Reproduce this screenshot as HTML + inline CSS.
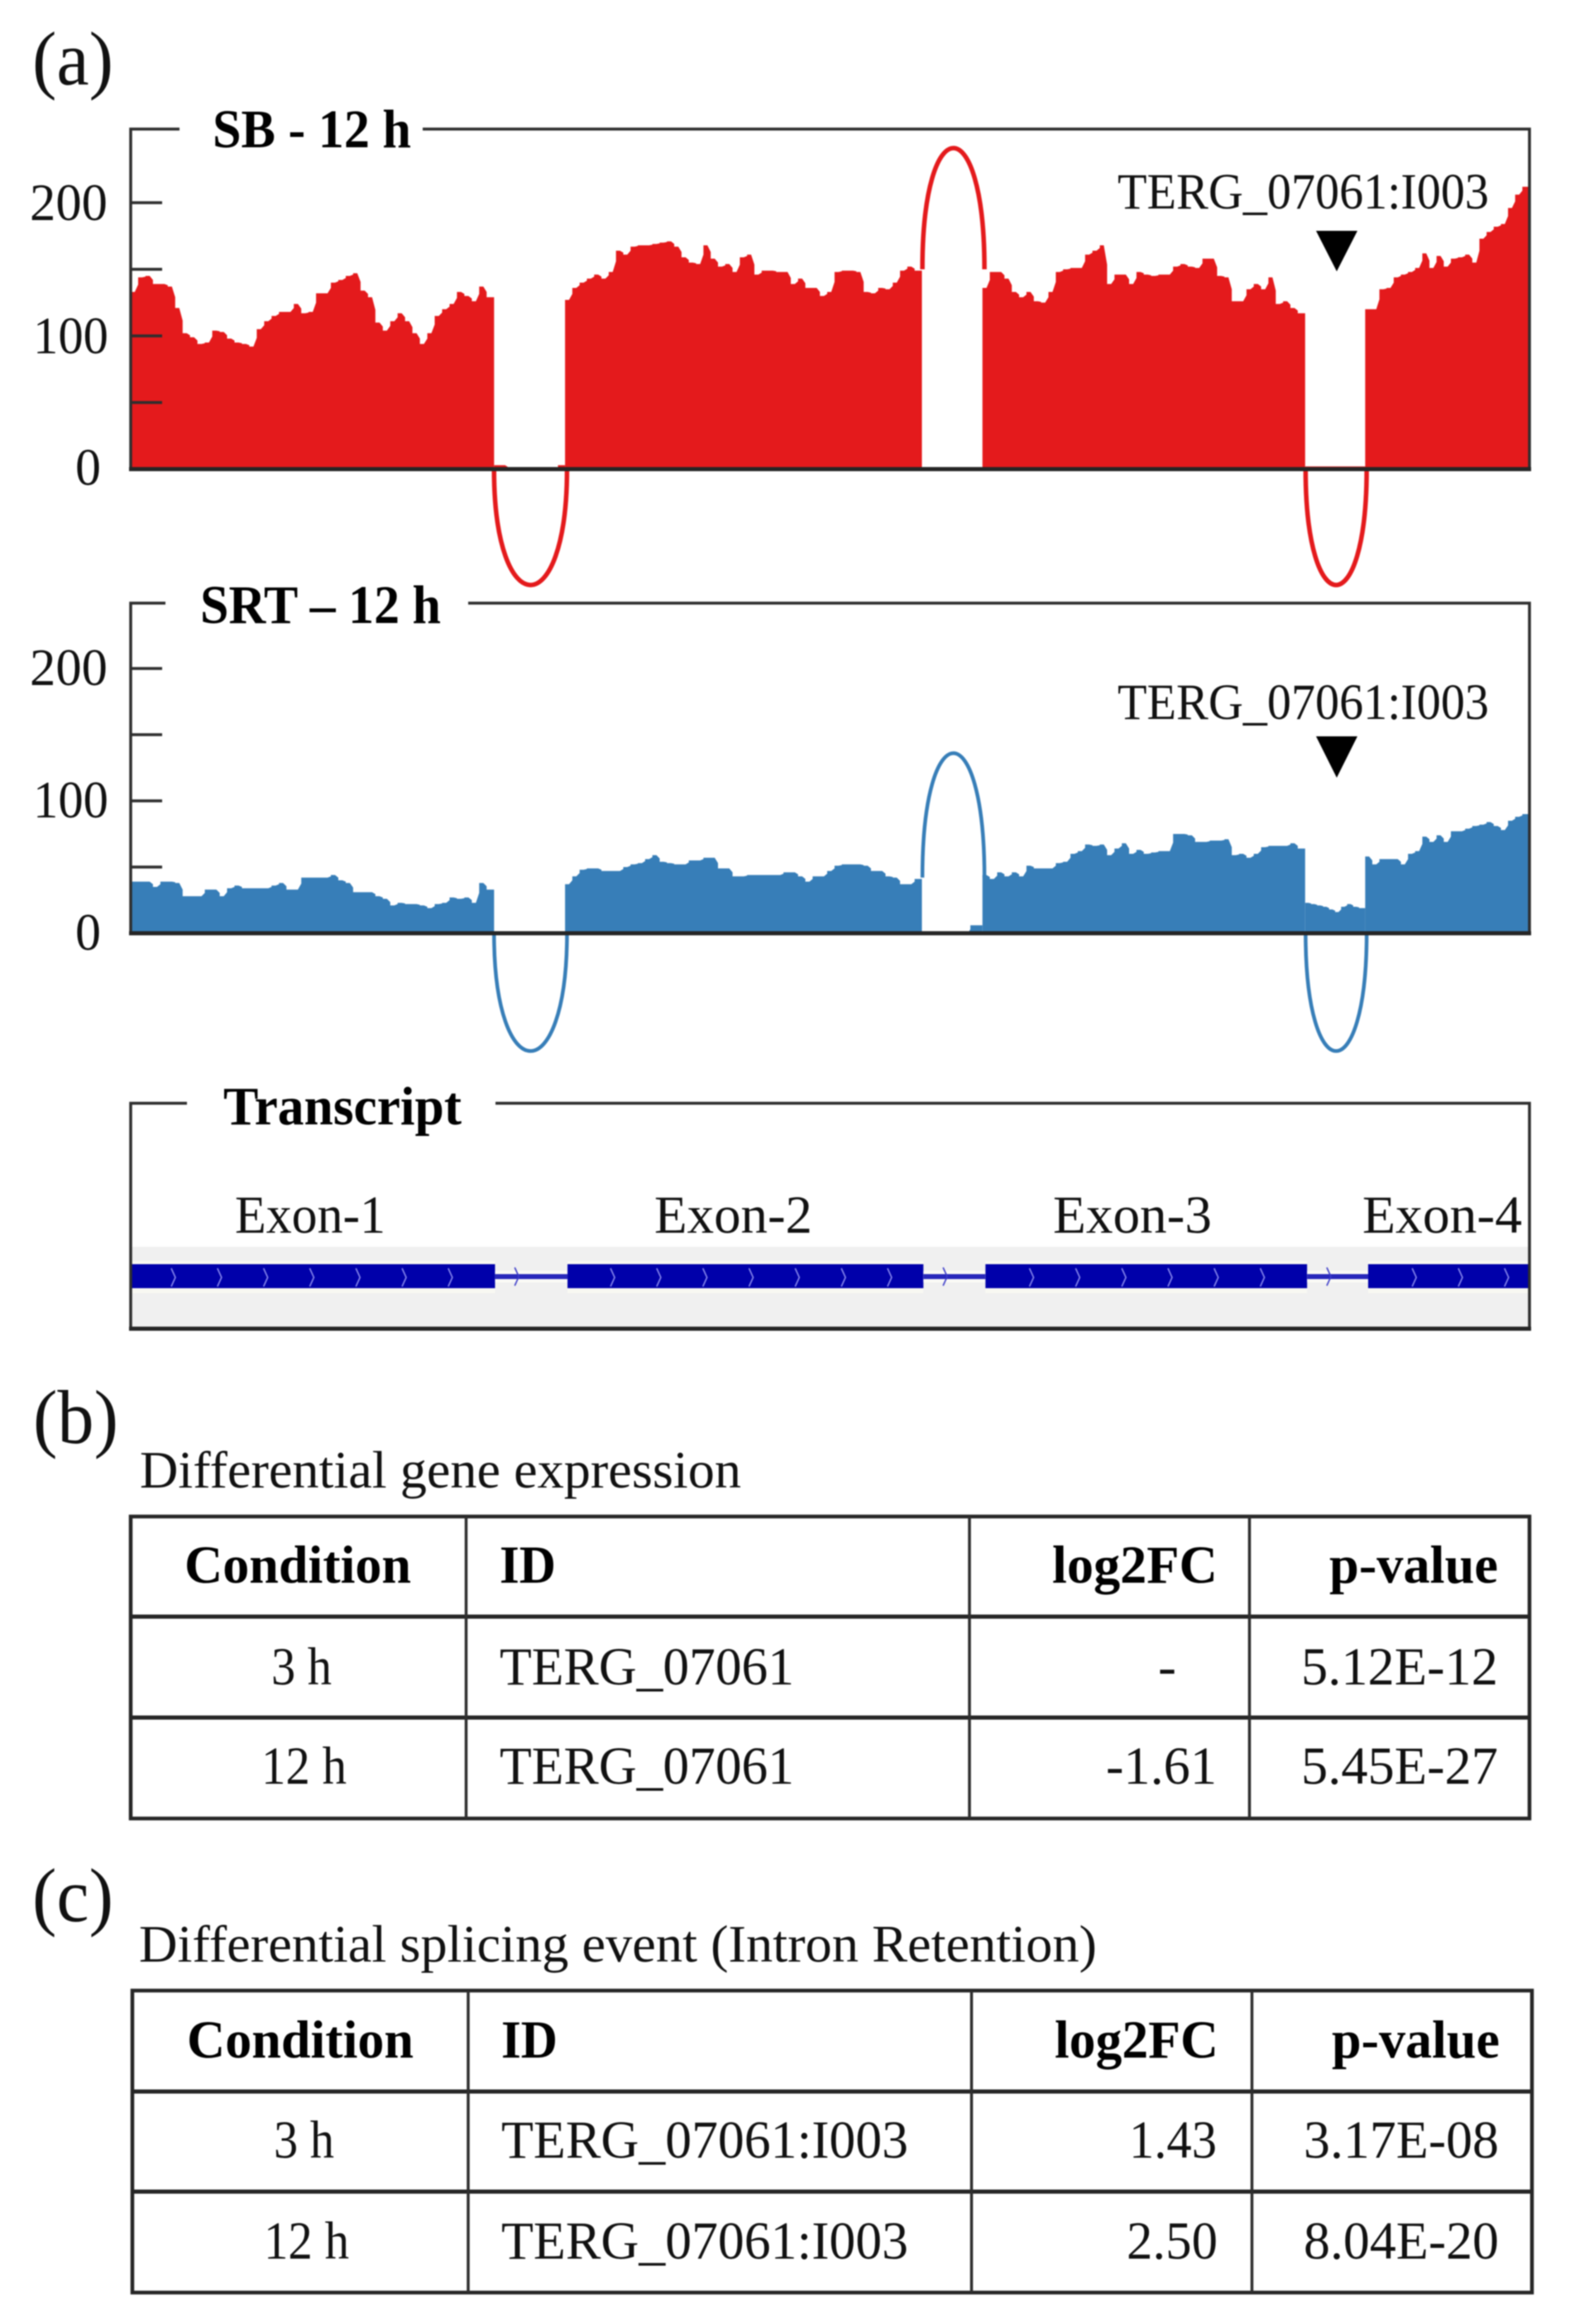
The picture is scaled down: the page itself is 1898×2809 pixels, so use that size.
<!DOCTYPE html>
<html lang="en">
<head>
<meta charset="utf-8">
<title>Intron retention coverage figure</title>
<style>
html,body{margin:0;padding:0;background:#fff;}
body{width:1898px;height:2809px;overflow:hidden;}
svg{display:block;filter:blur(0.7px);}
text{font-family:"Liberation Serif",serif;fill:#111;}
.b{font-weight:bold;fill:#000;}
.f{fill:none;stroke:#2e2e2e;stroke-width:3.5;}
.h{stroke:#262626;stroke-width:5;}
.v{stroke:#2e2e2e;stroke-width:3.5;}
</style>
</head>
<body>
<svg id="fig" xmlns="http://www.w3.org/2000/svg" width="1898" height="2809" viewBox="0 0 1898 2809">
  <rect width="1898" height="2809" fill="#fff"/>

  <text x="39" y="102" font-size="92" textLength="98" lengthAdjust="spacingAndGlyphs">(a)</text>

  <g id="track-red"></g>
  <g id="track-blue"></g>

  <g>
    <path class="f" d="M217 156H158V567"/>
    <path class="f" d="M511 156H1849V567"/>
    <line class="h" x1="156" y1="567" x2="1851" y2="567"/>
  </g>
  <text class="b" x="257" y="178" font-size="66" textLength="240" lengthAdjust="spacingAndGlyphs">SB - 12 h</text>
  <text x="36" y="266" font-size="63" textLength="94" lengthAdjust="spacingAndGlyphs">200</text>
  <text x="40" y="427" font-size="63" textLength="91" lengthAdjust="spacingAndGlyphs">100</text>
  <text x="91" y="586" font-size="63" textLength="31" lengthAdjust="spacingAndGlyphs">0</text>
  <text x="1351" y="252" font-size="61" textLength="449" lengthAdjust="spacingAndGlyphs">TERG_07061:I003</text>
  <polygon points="1591,279 1641,279 1616,328" fill="#000"/>

  <g>
    <path class="f" d="M200 729H158V1128"/>
    <path class="f" d="M566 729H1849V1128"/>
    <line class="h" x1="156" y1="1128" x2="1851" y2="1128"/>
  </g>
  <text class="b" x="242" y="753" font-size="66" textLength="291" lengthAdjust="spacingAndGlyphs">SRT – 12 h</text>
  <text x="36" y="828" font-size="63" textLength="94" lengthAdjust="spacingAndGlyphs">200</text>
  <text x="40" y="988" font-size="63" textLength="91" lengthAdjust="spacingAndGlyphs">100</text>
  <text x="91" y="1148" font-size="63" textLength="31" lengthAdjust="spacingAndGlyphs">0</text>
  <text x="1351" y="869" font-size="61" textLength="449" lengthAdjust="spacingAndGlyphs">TERG_07061:I003</text>
  <polygon points="1591,890 1641,890 1616,940" fill="#000"/>

  <rect x="158" y="1507" width="1691" height="98" fill="#f0f0f0"/>
  <g id="track-transcript"></g>
  <g>
    <path class="f" d="M226 1333.500H158V1606"/>
    <path class="f" d="M599 1333.500H1849V1606"/>
    <line class="h" x1="156" y1="1606" x2="1851" y2="1606"/>
  </g>
  <text class="b" x="270" y="1359" font-size="66" textLength="288" lengthAdjust="spacingAndGlyphs">Transcript</text>
  <text x="284" y="1490" font-size="65" textLength="182" lengthAdjust="spacingAndGlyphs">Exon-1</text>
  <text x="791" y="1490" font-size="65" textLength="191" lengthAdjust="spacingAndGlyphs">Exon-2</text>
  <text x="1273" y="1490" font-size="65" textLength="192" lengthAdjust="spacingAndGlyphs">Exon-3</text>
  <text x="1647" y="1490" font-size="65" textLength="193" lengthAdjust="spacingAndGlyphs">Exon-4</text>

  <text x="40" y="1744" font-size="92" textLength="103" lengthAdjust="spacingAndGlyphs">(b)</text>
  <text x="169" y="1798" font-size="63" textLength="727" lengthAdjust="spacingAndGlyphs">Differential gene expression</text>
  <g>
    <rect x="158" y="1833" width="1691" height="365" fill="none" stroke="#262626" stroke-width="4.500"/>
    <line class="h" x1="158" y1="1954" x2="1849" y2="1954"/>
    <line class="h" x1="158" y1="2076" x2="1849" y2="2076"/>
    <line class="v" x1="563.500" y1="1833" x2="563.500" y2="2198"/>
    <line class="v" x1="1172" y1="1833" x2="1172" y2="2198"/>
    <line class="v" x1="1510.500" y1="1833" x2="1510.500" y2="2198"/>
  </g>
  <text class="b" x="223" y="1913" font-size="65" textLength="274" lengthAdjust="spacingAndGlyphs">Condition</text>
  <text class="b" x="604" y="1913" font-size="65" textLength="68" lengthAdjust="spacingAndGlyphs">ID</text>
  <text class="b" x="1272" y="1913" font-size="65" textLength="200" lengthAdjust="spacingAndGlyphs">log2FC</text>
  <text class="b" x="1607" y="1913" font-size="65" textLength="204" lengthAdjust="spacingAndGlyphs">p-value</text>
  <text x="328" y="2036" font-size="65" textLength="73" lengthAdjust="spacingAndGlyphs">3 h</text>
  <text x="604" y="2036" font-size="65" textLength="356" lengthAdjust="spacingAndGlyphs">TERG_07061</text>
  <text x="1400" y="2036" font-size="65" textLength="22" lengthAdjust="spacingAndGlyphs">-</text>
  <text x="1573" y="2036" font-size="65" textLength="238" lengthAdjust="spacingAndGlyphs">5.12E-12</text>
  <text x="316" y="2156" font-size="65" textLength="103" lengthAdjust="spacingAndGlyphs">12 h</text>
  <text x="604" y="2156" font-size="65" textLength="356" lengthAdjust="spacingAndGlyphs">TERG_07061</text>
  <text x="1337" y="2156" font-size="65" textLength="134" lengthAdjust="spacingAndGlyphs">-1.61</text>
  <text x="1573" y="2156" font-size="65" textLength="238" lengthAdjust="spacingAndGlyphs">5.45E-27</text>

  <text x="39" y="2322" font-size="92" textLength="98" lengthAdjust="spacingAndGlyphs">(c)</text>
  <text x="168" y="2371" font-size="63" textLength="1158" lengthAdjust="spacingAndGlyphs">Differential splicing event (Intron Retention)</text>
  <g>
    <rect x="160" y="2406" width="1692" height="365" fill="none" stroke="#262626" stroke-width="4.500"/>
    <line class="h" x1="160" y1="2528" x2="1852" y2="2528"/>
    <line class="h" x1="160" y1="2649" x2="1852" y2="2649"/>
    <line class="v" x1="566" y1="2406" x2="566" y2="2771"/>
    <line class="v" x1="1174.500" y1="2406" x2="1174.500" y2="2771"/>
    <line class="v" x1="1513.500" y1="2406" x2="1513.500" y2="2771"/>
  </g>
  <text class="b" x="226" y="2487" font-size="65" textLength="274" lengthAdjust="spacingAndGlyphs">Condition</text>
  <text class="b" x="606" y="2487" font-size="65" textLength="68" lengthAdjust="spacingAndGlyphs">ID</text>
  <text class="b" x="1275" y="2487" font-size="65" textLength="198" lengthAdjust="spacingAndGlyphs">log2FC</text>
  <text class="b" x="1610" y="2487" font-size="65" textLength="203" lengthAdjust="spacingAndGlyphs">p-value</text>
  <text x="331" y="2608" font-size="65" textLength="73" lengthAdjust="spacingAndGlyphs">3 h</text>
  <text x="606" y="2608" font-size="65" textLength="492" lengthAdjust="spacingAndGlyphs">TERG_07061:I003</text>
  <text x="1365" y="2608" font-size="65" textLength="106" lengthAdjust="spacingAndGlyphs">1.43</text>
  <text x="1576" y="2608" font-size="65" textLength="236" lengthAdjust="spacingAndGlyphs">3.17E-08</text>
  <text x="319" y="2730" font-size="65" textLength="103" lengthAdjust="spacingAndGlyphs">12 h</text>
  <text x="606" y="2730" font-size="65" textLength="492" lengthAdjust="spacingAndGlyphs">TERG_07061:I003</text>
  <text x="1362" y="2730" font-size="65" textLength="110" lengthAdjust="spacingAndGlyphs">2.50</text>
  <text x="1576" y="2730" font-size="65" textLength="236" lengthAdjust="spacingAndGlyphs">8.04E-20</text>
</svg>

<script>
// Gene model, in base pairs
const geneLength = 2818;
const exonStarts = [0, 875, 1716, 2487];
const exonEnds = [732, 1594, 2366, 2818];
const transcriptExonStarts = [0, 880, 1722, 2493];
const transcriptExonEnds = [734, 1597, 2370, 2818];
const junctionStarts = [732, 1595, 2367];
const junctionEnds = [879, 1720, 2490];
const junctionDirections = [-1, 1, -1];
const tickValues = [0, 50, 100, 150, 200];

// SB 12 h coverage per exon
const redExon1 = [133,144,145,139,139,137,121,102,99,94,95,104,103,98,95,94,92,105,111,115,118,118,124,117,118,132,132,140,142,145,147,134,129,110,104,111,117,111,102,94,102,115,120,124,133,130,126,137,129];
const redExon2 = [127,136,140,143,146,143,148,164,161,167,168,168,169,170,171,167,159,155,154,168,158,152,154,148,159,161,146,149,149,148,148,139,143,136,136,130,133,148,149,149,148,133,132,136,135,140,149,152,149];
const redExon3 = [136,148,148,143,133,129,133,126,125,133,148,150,151,151,161,164,168,139,146,146,139,148,146,145,146,146,152,154,152,151,158,158,145,144,126,126,135,139,135,144,124,126,121,117];
const redExon4 = [120,120,135,136,144,146,148,151,162,151,160,152,158,159,161,155,173,178,182,184,196,206,212];
// SB 12 h coverage inside introns
const redIntron1 = [3,3,0,0,0,0,0,0,0,3];
const redIntron2 = [0,0,0,0,0,0];
const redIntron3 = [2,2,2,2,2,2];
// SB 12 h junction read counts and arc anchor levels
const redJunctionCounts = [87, 91, 87];
const redJunctionBases = [0, 150, 0];

// SRT 12 h coverage per exon
const blueExon1 = [39,39,39,35,39,39,38,28,28,28,33,33,28,34,36,34,34,34,34,36,38,33,33,42,42,42,42,44,40,38,31,31,31,28,26,21,23,22,22,21,19,22,23,27,26,27,23,38,33];
const blueExon2 = [37,43,48,49,49,47,47,47,50,52,53,56,59,54,53,52,52,55,55,57,57,49,49,43,43,44,44,44,44,44,46,46,43,39,43,43,47,51,52,52,52,51,47,47,43,42,37,37,41];
const blueExon3 = [44,41,46,43,46,43,51,49,49,49,53,54,60,62,67,66,67,59,64,68,60,63,60,61,62,62,75,75,74,69,69,70,70,71,59,60,57,60,65,66,66,66,68,64];
const blueExon4 = [58,52,56,56,56,52,60,62,73,69,74,69,77,77,79,81,82,84,81,78,85,88,90];
// SRT 12 h coverage inside introns
const blueIntron1 = [0,0,0,0,0,0];
const blueIntron2 = [0,0,0,0,0,0,0,0,6,6];
const blueIntron3 = [23,22,21,20,18,16,20,22,20,19];
// SRT 12 h junction read counts and arc anchor levels
const blueJunctionCounts = [89, 94, 89];
const blueJunctionBases = [0, 42, 0];

const SVG_NS = 'http://www.w3.org/2000/svg';
function xScale(bp) { return 158 + bp * (1691 / geneLength); }
function yRed(v) { return 567 - v * 1.61; }
function yBlue(v) { return 1128 - v * 1.6; }

// Stepped coverage outline: each sample owns an equal-width bin of the segment
function areaPath(values, startBp, endBp, yScale) {
  const base = yScale(0);
  const binBp = (endBp - startBp) / values.length;
  let d = 'M' + xScale(startBp).toFixed(1) + ' ' + base;
  values.forEach(function (v, i) {
    const y = yScale(v).toFixed(1);
    d += 'L' + xScale(startBp + binBp * i).toFixed(1) + ' ' + y;
    d += 'L' + xScale(startBp + binBp * (i + 0.55)).toFixed(1) + ' ' + y;
    const next = i + 1 < values.length ? values[i + 1] : v;
    d += 'L' + xScale(startBp + binBp * (i + 1)).toFixed(1) + ' ' + yScale((v + next) / 2).toFixed(1);
  });
  return d + 'L' + xScale(endBp).toFixed(1) + ' ' + base + 'Z';
}

function drawTrack(groupId, color, exons, introns, counts, bases, yScale, strokeWidth) {
  const g = document.getElementById(groupId);
  exons.forEach(function (values, i) {
    const p = document.createElementNS(SVG_NS, 'path');
    
    
    p.setAttribute('d', areaPath(values, exonStarts[i], exonEnds[i], yScale));
    p.setAttribute('fill', color);
    g.appendChild(p);
  });
  introns.forEach(function (values, i) {
    const p = document.createElementNS(SVG_NS, 'path');
    
    
    p.setAttribute('d', areaPath(values, exonEnds[i], exonStarts[i + 1], yScale));
    p.setAttribute('fill', color);
    g.appendChild(p);
  });
  counts.forEach(function (count, i) {
    const x0 = xScale(junctionStarts[i]);
    const x1 = xScale(junctionEnds[i]);
    const y0 = yScale(bases[i]);
    const peak = yScale(bases[i] + junctionDirections[i] * count);
    const c = y0 + (peak - y0) * 4 / 3;
    const p = document.createElementNS(SVG_NS, 'path');
    
    
    p.setAttribute('d', 'M' + x0 + ' ' + y0 + 'C' + x0 + ' ' + c + ' ' + x1 + ' ' + c + ' ' + x1 + ' ' + y0);
    p.setAttribute('fill', 'none');
    p.setAttribute('stroke', color);
    p.setAttribute('stroke-width', strokeWidth);
    g.appendChild(p);
  });
  tickValues.forEach(function (t) {
    const l = document.createElementNS(SVG_NS, 'line');
    
    
    l.setAttribute('x1', 158);
    l.setAttribute('x2', 196);
    l.setAttribute('y1', yScale(t));
    l.setAttribute('y2', yScale(t));
    l.setAttribute('stroke', '#2e2e2e');
    l.setAttribute('stroke-width', 3.5);
    g.appendChild(l);
  });
}

drawTrack('track-red', '#e41a1c', [redExon1, redExon2, redExon3, redExon4],
  [redIntron1, redIntron2, redIntron3], redJunctionCounts, redJunctionBases, yRed, 5.5);
drawTrack('track-blue', '#377eb8', [blueExon1, blueExon2, blueExon3, blueExon4],
  [blueIntron1, blueIntron2, blueIntron3], blueJunctionCounts, blueJunctionBases, yBlue, 4.5);

// Transcript model
const tg = document.getElementById('track-transcript');
const chevronSpacingBp = 93;
const chevronFirstOffsetsBp = [85, 90, 92, 92];
function chevron(bpPos, color, top, bottom) {
  const c = document.createElementNS(SVG_NS, 'path');
  
  
  const x = xScale(bpPos);
  c.setAttribute('d', 'M' + (x - 2) + ' ' + top + 'L' + (x + 3) + ' ' + ((top + bottom) / 2) + 'L' + (x - 2) + ' ' + bottom);
  c.setAttribute('fill', 'none');
  c.setAttribute('stroke', color);
  c.setAttribute('stroke-width', 1.6);
  tg.appendChild(c);
}
transcriptExonStarts.forEach(function (start, i) {
  const halo = document.createElementNS(SVG_NS, 'rect');
  
  
  halo.setAttribute('x', xScale(start));
  halo.setAttribute('y', 1524);
  halo.setAttribute('width', xScale(transcriptExonEnds[i]) - xScale(start));
  halo.setAttribute('height', 39);
  halo.setAttribute('fill', '#f8f8f2');
  tg.appendChild(halo);
  const r = document.createElementNS(SVG_NS, 'rect');
  
  
  r.setAttribute('x', xScale(start));
  r.setAttribute('y', 1528);
  r.setAttribute('width', xScale(transcriptExonEnds[i]) - xScale(start));
  r.setAttribute('height', 29);
  r.setAttribute('fill', '#0000aa');
  tg.appendChild(r);
  if (i < transcriptExonStarts.length - 1) {
    const halo2 = document.createElementNS(SVG_NS, 'rect');
    
    
    halo2.setAttribute('x', xScale(transcriptExonEnds[i]));
    halo2.setAttribute('y', 1536);
    halo2.setAttribute('width', xScale(transcriptExonStarts[i + 1]) - xScale(transcriptExonEnds[i]));
    halo2.setAttribute('height', 14);
    halo2.setAttribute('fill', '#fafaf6');
    tg.appendChild(halo2);
    const il = document.createElementNS(SVG_NS, 'rect');
    
    
    il.setAttribute('x', xScale(transcriptExonEnds[i]));
    il.setAttribute('y', 1540);
    il.setAttribute('width', xScale(transcriptExonStarts[i + 1]) - xScale(transcriptExonEnds[i]));
    il.setAttribute('height', 6);
    il.setAttribute('fill', '#2828bb');
    tg.appendChild(il);
    chevron(transcriptExonEnds[i] + 43, '#3a3ac8', 1532, 1554);
  }
  for (let bp = start + chevronFirstOffsetsBp[i]; bp < transcriptExonEnds[i] - 30; bp += chevronSpacingBp) {
    chevron(bp, '#8a8aee', 1533, 1555);
  }
});
</script>
</body>
</html>
